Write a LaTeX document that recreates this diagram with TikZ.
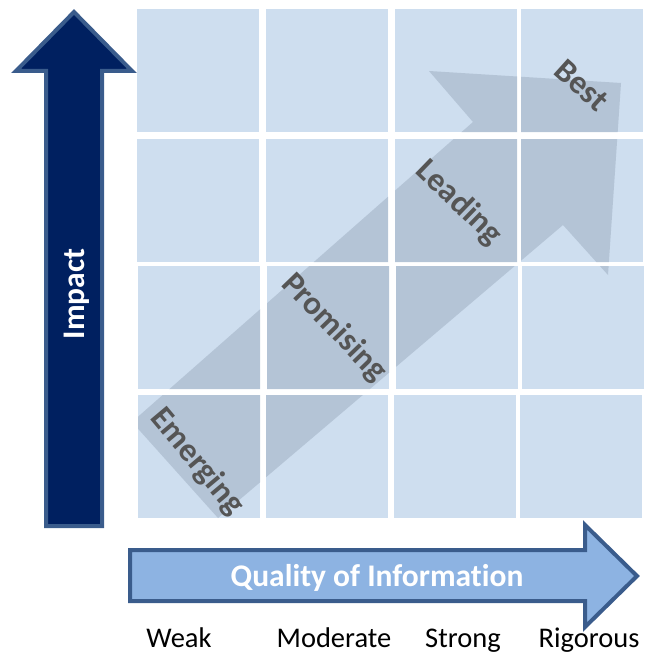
\documentclass[tikz,border=0pt]{standalone}
\usepackage{fontspec}
\setmainfont{Carlito}[Ligatures=NoCommon]
\definecolor{cellblue}{RGB}{206,222,239}
\definecolor{bandgrey}{RGB}{180,196,214}
\definecolor{impactnavy}{RGB}{0,32,96}
\definecolor{edgeblue}{RGB}{58,92,140}
\definecolor{qualityblue}{RGB}{141,179,226}
\definecolor{labelgrey}{RGB}{85,85,85}
\begin{document}
\begin{tikzpicture}[x=1pt,y=-1pt]
    \tikzstyle{every node}+=[inner sep=0pt]
    \tikzstyle{stage}=[font=\fontsize{33}{38}\selectfont\bfseries, text=labelgrey]
    \tikzstyle{level}=[font=\fontsize{28.5}{33}\selectfont, text=black, anchor=base]
    \useasboundingbox (0,0) rectangle (650,658);
    \foreach \x/\y in {137/9,266/9,395/9,521/9,137/139,266/139,395/139,521/139,
        138/266,267/266,396/266,522/266,138/395,266/395,394/395,520/395}
        \fill [cellblue] (\x,\y) rectangle ++(122,123);
    \begin{scope}
    \clip \foreach \x/\y in {137/9,266/9,395/9,521/9,137/139,266/139,395/139,521/139,
        138/266,267/266,396/266,522/266,138/395,266/395,394/395,520/395}
        {(\x,\y) rectangle ++(122,123)};
    \fill [bandgrey] (132,422) -- (473,122) -- (429,71) -- (621,83) -- (608,275)
        -- (563,225) -- (218,518) -- cycle;
    \end{scope}
    \draw (197,462) node [stage, rotate=-50] (emerging) {Emerging};
    \draw (334,328) node [stage, rotate=-46] (promising) {Promising};
    \draw (459,203) node [stage, rotate=-44] (leading) {Leading};
    \draw (582,85) node [stage, rotate=-42] (best) {Best};
    \draw [edgeblue, line width=4, fill=impactnavy] (46,526) -- (46,71) -- (16,71)
        -- (74,12) -- (132,71) -- (102,71) -- (102,526) -- cycle;
    \draw (84,294) node [anchor=base, rotate=90, text=white,
        font=\fontsize{31.5}{36}\selectfont\bfseries] (impact) {Impact};
    \draw [edgeblue, line width=4, fill=qualityblue] (130,550) -- (585,550) -- (585,525)
        -- (637,576) -- (585,627) -- (585,601) -- (130,601) -- cycle;
    \draw (377,586) node [anchor=base, text=white,
        font=\fontsize{31.5}{36}\selectfont\bfseries] (quality) {Quality of Information};
    \draw (179,647) node [level] (weak) {Weak};
    \draw (334,647) node [level] (moderate) {Moderate};
    \draw (463,647) node [level] (strong) {Strong};
    \draw (589,647) node [level] (rigorous) {Rigorous};
\end{tikzpicture}
\end{document}
